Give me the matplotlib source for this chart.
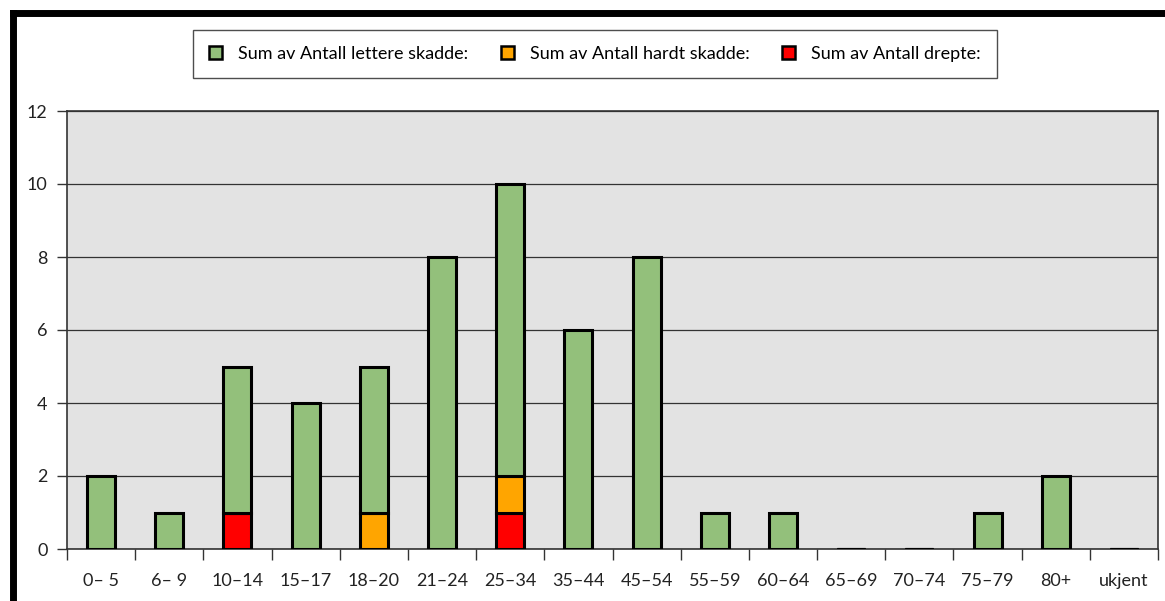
import matplotlib
matplotlib.use("Agg")
import matplotlib.pyplot as plt
import numpy as np
from matplotlib.patches import Patch
from matplotlib.lines import Line2D

categories = ["0\u2013 5", "6\u2013 9", "10\u201314", "15\u201317", "18\u201320", "21\u201324", "25\u201334",
              "35\u201344", "45\u201354", "55\u201359", "60\u201364", "65\u201369", "70\u201374", "75\u201379",
              "80+", "ukjent"]
drepte = [0, 0, 1, 0, 0, 0, 1, 0, 0, 0, 0, 0, 0, 0, 0, 0]
hardt_skadde = [0, 0, 0, 0, 1, 0, 1, 0, 0, 0, 0, 0, 0, 0, 0, 0]
lettere_skadde = [2, 1, 4, 4, 4, 8, 8, 6, 8, 1, 1, 0, 0, 1, 2, 0]
yticks = [0, 2, 4, 6, 8, 10, 12]

labels = ["Sum av Antall lettere skadde:", "Sum av Antall hardt skadde:", "Sum av Antall drepte:"]
c_green, c_orange, c_red = "#93c07b", "#ffa500", "#ff0000"

plt.rcParams['font.family'] = ['Lato', 'DejaVu Sans']

fig = plt.figure(figsize=(11.65, 6.01), dpi=100)
ax = fig.add_axes([67/1165, 1-549/601, (1158-67)/1165, (549-111)/601])
ax.set_facecolor("#e3e3e3")

x = np.arange(len(categories))
w = 0.41
d = np.array(drepte)
h = np.array(hardt_skadde)
l = np.array(lettere_skadde)
ax.bar(x, d, w, color=c_red, edgecolor="black", linewidth=2.2, zorder=3)
ax.bar(x, h, w, bottom=d, color=c_orange, edgecolor="black", linewidth=2.2, zorder=3)
ax.bar(x, l, w, bottom=d + h, color=c_green, edgecolor="black", linewidth=2.2, zorder=3)

ax.set_xlim(-0.5, len(categories) - 0.5)
ax.set_ylim(0, 12)
ax.set_yticks(yticks)
ax.set_yticklabels([str(v) for v in yticks], fontsize=13, color="#222222")
ax.yaxis.grid(True, color="#333333", linewidth=0.9, zorder=1)
ax.set_axisbelow(True)

ax.set_xticks(x)
ax.set_xticklabels(categories, fontsize=13, color="#222222")
ax.tick_params(axis="x", length=0, pad=17)
ax.set_xticks(np.arange(len(categories) + 1) - 0.5, minor=True)
ax.tick_params(axis="x", which="minor", length=8, width=1, color="#333333")
ax.tick_params(axis="y", length=7, width=1, color="#333333", pad=7)

for s in ["left", "right", "top", "bottom"]:
    ax.spines[s].set_color("#333333")
    ax.spines[s].set_linewidth(1.2)

handles = [Patch(facecolor=c_green, edgecolor="black", linewidth=1.8),
           Patch(facecolor=c_orange, edgecolor="black", linewidth=1.8),
           Patch(facecolor=c_red, edgecolor="black", linewidth=1.8)]
leg = fig.legend(handles, labels, loc="center", bbox_to_anchor=(595/1165, 1-54/601), ncol=3,
                 fontsize=13, frameon=True, fancybox=False, edgecolor="#222222",
                 handlelength=0.7, handleheight=0.7, handletextpad=0.9, columnspacing=1.8,
                 borderpad=0.9, borderaxespad=0)
leg.get_frame().set_linewidth(1.0)

# outer thick frame (top and left)
fig.add_artist(Line2D([13/1165, 1.0], [1-13/601, 1-13/601], transform=fig.transFigure,
                      color="black", linewidth=5, solid_capstyle="projecting"))
fig.add_artist(Line2D([13/1165, 13/1165], [1-13/601, 0.0], transform=fig.transFigure,
                      color="black", linewidth=5, solid_capstyle="projecting"))

fig.savefig("out.png", dpi=100)
